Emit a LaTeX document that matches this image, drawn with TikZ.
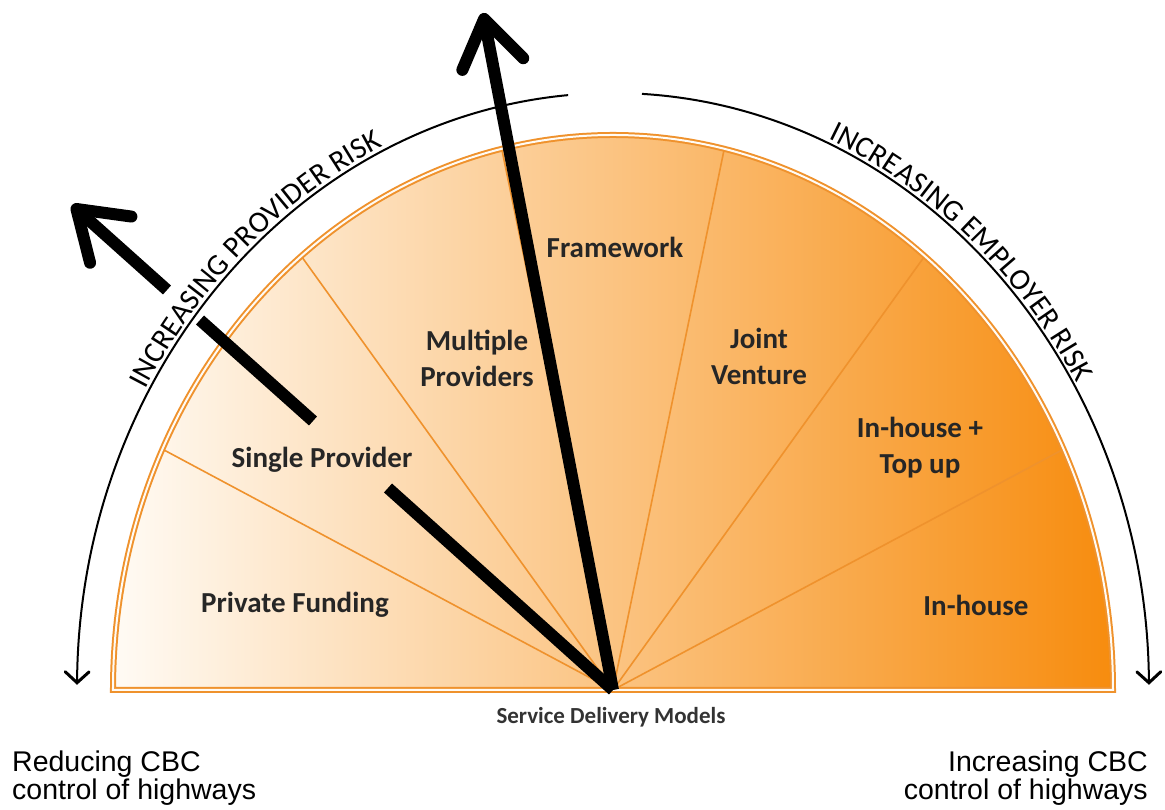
\documentclass[tikz,border=0pt]{standalone}
\usepackage{fontspec}
\setmainfont{Carlito}
\newfontfamily\arialfont{Liberation Sans}
\usetikzlibrary{arrows.meta,decorations.text}
\definecolor{fanlight}{RGB}{255,251,245}
\definecolor{fanmid}{RGB}{251,192,116}
\definecolor{fandark}{RGB}{247,140,14}
\definecolor{fanedge}{RGB}{239,146,45}
\newcommand{\fanoutline}{(-500,0) arc[start angle=180, end angle=0, x radius=500pt, y radius=555pt] -- cycle}
\newcommand{\riskfont}{\fontsize{30}{32}\selectfont}

\begin{document}
\begin{tikzpicture}[
      x=1pt, y=1pt,
      sector/.style={font=\bfseries\fontsize{29}{36}\selectfont, align=center, text=black!85, inner sep=0pt},
      caption/.style={font=\bfseries\fontsize{23}{26}\selectfont, text=black!80, inner sep=0pt},
      cbcnote/.style={font=\arialfont\fontsize{28.5}{28}\selectfont, inner sep=0pt},
      divider/.style={draw=fanedge, line width=1.6pt},
      rim/.style={draw=fanedge, line width=2pt, double=fanlight, double distance=2pt},
      shaft/.style={draw=black, line width=12pt},
      bigarrow/.style={shaft, -{Straight Barb[length=46pt, width=62pt, line cap=round, line join=round]}},
      riskarc/.style={draw=black, line width=2pt, -{Straight Barb[length=11pt, width=24pt, line width=3pt, line cap=round]}},
      risktext/.style={decorate, decoration={text along path, raise=4pt, text={|\riskfont|#1}}}
      ]
      \useasboundingbox (-613,-120) rectangle (552,690);
      \coordinate (hub) at (0,0);
      \coordinate (ttip) at (-130,677);
      \coordinate (ltip) at (-541,485);
      \coordinate (l1) at (-225,202);
      \coordinate (l2) at (-300,269);
      \coordinate (l3) at (-413,370);
      \coordinate (l4) at (-446,400);

      % the fan
      \shade[left color=fanlight, middle color=fanmid, right color=fandark] \fanoutline;
      \foreach \k in {1,...,6}
        \draw[divider] (hub) -- ({\k*180/7}:500pt and 555pt);
      \draw[rim] \fanoutline;

      % risk arcs
      \draw[riskarc] (94.8:536pt and 597pt) arc[start angle=94.8, end angle=179.5, x radius=536pt, y radius=597pt];
      \draw[riskarc] (86.9:536pt and 597pt) arc[start angle=86.9, end angle=0.5, x radius=536pt, y radius=597pt];
      \path[risktext={INCREASING PROVIDER RISK}] (150:536pt and 597pt) arc[start angle=150, end angle=100, x radius=536pt, y radius=597pt];
      \path[risktext={INCREASING EMPLOYER RISK}] (66.5:536pt and 597pt) arc[start angle=66.5, end angle=15, x radius=536pt, y radius=597pt];

      % models
      \node[sector] (private) at (-318,85) {Private Funding};
      \node[sector] (single) at (-291,230) {Single Provider};
      \node[sector] (multiple) at (-136,332) {Multiple\\Providers};
      \node[sector] (framework) at (2,443) {Framework};
      \node[sector] (joint) at (146,334) {Joint\\Venture};
      \node[sector] (topup) at (307,242) {In-house +\\Top up};
      \node[sector] (inhouse) at (363,85) {In-house};
      \node[caption] (models) at (-2,-27) {Service Delivery Models};

      % black arrows
      \draw[bigarrow] (hub) -- (ttip);
      \draw[shaft] (hub) -- (l1);
      \draw[shaft] (l2) -- (l3);
      \draw[bigarrow] (l4) -- (ltip);

      \node[cbcnote, anchor=north west, align=left] (reducing) at (-601,-61) {Reducing CBC\\control of highways};
      \node[cbcnote, anchor=north east, align=right] (increasing) at (535,-61) {Increasing CBC\\control of highways};
\end{tikzpicture}
\end{document}
